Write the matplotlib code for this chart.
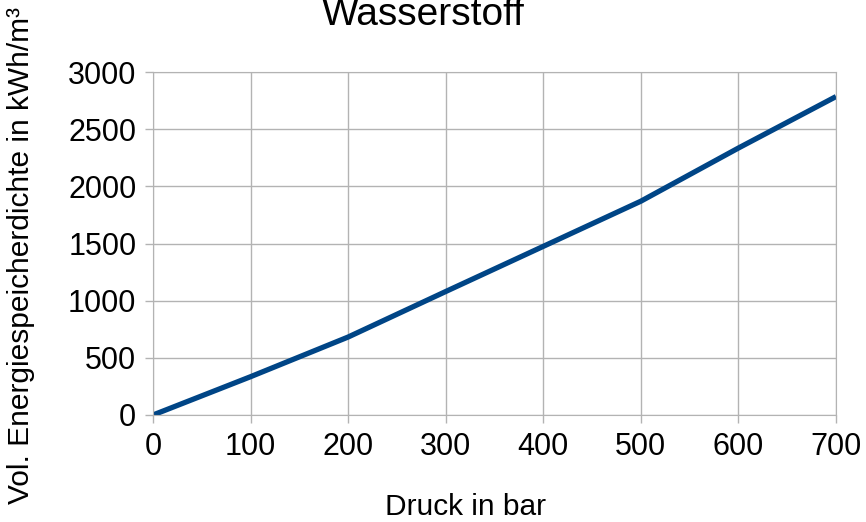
import matplotlib.pyplot as plt

druck = [0, 100, 200, 300, 400, 500, 600, 700]
energie = [0, 335, 682, 1080, 1475, 1870, 2335, 2785]

plt.rcParams['font.family'] = ['Liberation Sans', 'DejaVu Sans']

fig = plt.figure(figsize=(8.66, 5.22), dpi=100)
ax = fig.add_axes([153 / 866, 1 - 415 / 522, (836 - 153) / 866, (415 - 72) / 522])

ax.plot(druck, energie, color='#004586', linewidth=3.8, solid_capstyle='butt')

ax.set_xlim(0, 700)
ax.set_ylim(0, 3000)
ax.set_xticks(range(0, 701, 100))
ax.set_yticks(range(0, 3001, 500))
ax.grid(True, color='#b3b3b3', linewidth=1)
ax.set_axisbelow(True)
for s in ax.spines.values():
    s.set_color('#b3b3b3')
ax.tick_params(colors='#b3b3b3', labelcolor='black', labelsize=22, length=6, width=1, pad=6)

fig.text(0.489, 1 - 25 / 522, 'Wasserstoff', ha='center', va='baseline', fontsize=28)
fig.text(466 / 866, 1 - 515 / 522, 'Druck in bar', ha='center', va='baseline', fontsize=21.5)
fig.text(7 / 866, 0.51, 'Vol. Energiespeicherdichte in kWh/m³', rotation=90,
         ha='left', va='center', fontsize=21.5)

fig.savefig('out.png', dpi=100)
